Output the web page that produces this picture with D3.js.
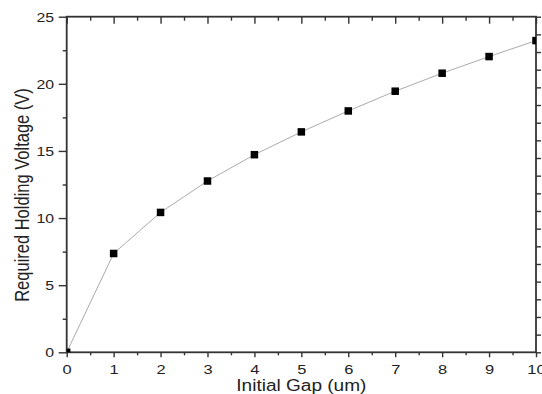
<!DOCTYPE html>
<html><head><meta charset="utf-8">
<script src="https://cdn.jsdelivr.net/npm/d3@7"></script>
<style>
html,body{margin:0;padding:0;background:#fff;}
svg{display:block;}
text{font-family:"Liberation Sans",Arial,sans-serif;fill:#222;}
</style></head>
<body>
<script>
const gaps = [0,1,2,3,4,5,6,7,8,9,10];
const voltages = [0,7.36,10.42,12.76,14.72,16.42,17.98,19.45,20.79,22.03,23.22];
const xTicks = [0,1,2,3,4,5,6,7,8,9,10];
const yTicks = [0,5,10,15,20,25];
const xTitle = "Initial Gap (um)";
const yTitle = "Required Holding Voltage (V)";

const W=542,H=394;
const L=66.7,R=536,T=16.7,B=352.3;
const sx=1.22;
const svg=d3.select("body").append("svg").attr("width",W).attr("height",H);
const x=d3.scaleLinear().domain([0,10]).range([L,R]);
const y=d3.scaleLinear().domain([0,25]).range([B,T]);
const yR=d3.scaleLinear().domain([0,19]).range([B,T]);

svg.append("defs").append("clipPath").attr("id","clip")
  .append("rect").attr("x",L).attr("y",T).attr("width",R-L).attr("height",B-T);

const col="#333";
function styleAxis(g){
  g.select(".domain").remove();
  g.selectAll(".tick line").attr("stroke",col).attr("stroke-width",1.4);
}
// bottom
svg.append("g").attr("transform",`translate(0,${B})`)
  .call(d3.axisBottom(x).tickValues(d3.range(0.5,10,1)).tickSize(3).tickFormat(""))
  .call(styleAxis);
const bx=svg.append("g").attr("transform",`translate(0,${B})`)
  .call(d3.axisBottom(x).tickValues(xTicks).tickSize(5).tickPadding(3).tickFormat(d3.format("d")))
  .call(styleAxis);
bx.selectAll(".tick text").attr("font-size",13.5).attr("fill","#222")
  .attr("y",0).attr("dy",0).attr("transform",`translate(0,21.5) scale(${sx},1)`);
// top
svg.append("g").attr("transform",`translate(0,${T})`)
  .call(d3.axisBottom(x).tickValues(d3.range(0.5,10,1)).tickSize(4).tickFormat(""))
  .call(styleAxis);
svg.append("g").attr("transform",`translate(0,${T})`)
  .call(d3.axisBottom(x).tickValues(xTicks).tickSize(7).tickFormat(""))
  .call(styleAxis);
// left
svg.append("g").attr("transform",`translate(${L},0)`)
  .call(d3.axisLeft(y).tickValues(d3.range(2.5,25,5)).tickSize(4).tickFormat(""))
  .call(styleAxis);
const ly=svg.append("g").attr("transform",`translate(${L},0)`)
  .call(d3.axisLeft(y).tickValues(yTicks).tickSize(8).tickFormat(d3.format("d")))
  .call(styleAxis);
ly.selectAll(".tick text").attr("font-size",13).attr("fill","#222")
  .attr("x",0).attr("dy","0.35em").attr("transform",`translate(-12.5,0) scale(${sx},1)`);
// right
svg.append("g").attr("transform",`translate(${R},0)`)
  .call(d3.axisRight(yR).tickValues(d3.range(0,20,1)).tickSize(5).tickFormat(""))
  .call(styleAxis);

// frame
svg.append("rect").attr("x",L).attr("y",T).attr("width",R-L).attr("height",B-T)
  .attr("fill","none").attr("stroke",col).attr("stroke-width",1.8);

const data=gaps.map((g,i)=>({g,v:voltages[i]}));
const plot=svg.append("g").attr("clip-path","url(#clip)");
plot.append("path").datum(data)
  .attr("d",d3.line().x(d=>x(d.g)).y(d=>y(d.v)))
  .attr("fill","none").attr("stroke","#aaa").attr("stroke-width",1);
const ms=7.5;
plot.selectAll("rect.m").data(data).enter().append("rect").attr("class","m")
  .attr("x",d=>x(d.g)-ms/2).attr("y",d=>y(d.v)-ms/2).attr("width",ms).attr("height",ms)
  .attr("fill","#000");

// titles
svg.append("text").attr("text-anchor","middle").attr("font-size",16)
  .attr("transform",`translate(${(L+R)/2},390.5) scale(1.19,1)`).text(xTitle);
svg.append("text").attr("text-anchor","middle").attr("font-size",16.5)
  .attr("transform",`translate(29,195) scale(1.19,1) rotate(-90)`).text(yTitle);
</script>
</body></html>
